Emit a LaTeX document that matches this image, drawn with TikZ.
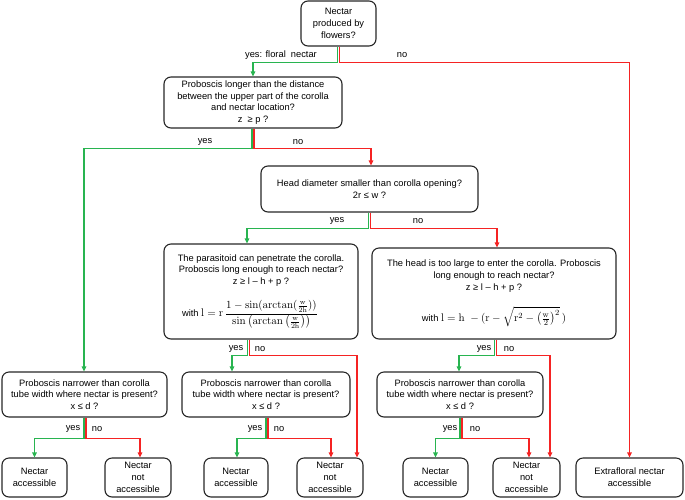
\documentclass[tikz,border=0pt]{standalone}
\usepackage{amsmath}
\usepackage[no-math]{fontspec}
\setmainfont{Liberation Sans}
\usetikzlibrary{arrows.meta}
\definecolor{gr}{RGB}{40,180,80}
\definecolor{rd}{RGB}{245,35,35}
\tikzset{
  box/.style={draw=black!85, line width=1.1pt, rounded corners=7pt, align=center, inner sep=0pt, font=\fontsize{9.3}{11.7}\selectfont},
  leaf/.style={box, font=\fontsize{9.3}{12.2}\selectfont},
  gl/.style={draw=gr, line width=1.1pt, -{Triangle[length=5pt,width=4.5pt]}},
  rl/.style={draw=rd, line width=1.1pt, -{Triangle[length=5pt,width=4.5pt]}},
  lab/.style={font=\fontsize{9.3}{11}\selectfont, inner sep=0pt}
}
\newcommand{\mathfs}{\fontsize{10.5}{12}\selectfont}
\newcommand{\mathfl}{\fontsize{11}{12}\selectfont}
\begin{document}
\begin{tikzpicture}[x=1pt,y=-1pt]
\useasboundingbox (0,0) rectangle (685,499);
% boxes
\node[box, minimum width=75pt, minimum height=45pt] (top) at (338.5,23.5) {Nectar\\produced by\\flowers?};
\node[box, minimum width=178pt, minimum height=51pt] (prob) at (253,102.5) {Proboscis longer than the distance\\between the upper part of the corolla\\and nectar location?\\z\ \ ≥ p ?};
\node[box, minimum width=217pt, minimum height=46pt] (head) at (369.5,189) {Head diameter smaller than corolla opening?\\2r ≤ w ?};
\node[box, minimum width=194pt, minimum height=95pt] (paras) at (261,291.5) {The parasitoid can penetrate the corolla.\\Proboscis long enough to reach nectar?\\z ≥ l – h + p ?\\[13pt]
with {\mathfs$\mathrm{l}=\mathrm{r}\,\dfrac{1-\sin(\arctan(\frac{\mathrm{w}}{2\mathrm{h}}))}{\sin\left(\arctan\left(\frac{\mathrm{w}}{2\mathrm{h}}\right)\right)}$}\hspace*{22pt}};
\node[box, minimum width=244pt, minimum height=91pt] (large) at (494,293.5) {The head is too large to enter the corolla. Proboscis\\long enough to reach nectar?\\z ≥ l – h + p ?\\[14pt]
with {\mathfl$\mathrm{l}=\mathrm{h}\;-(\mathrm{r}-\sqrt{\mathrm{r}^2-\left(\frac{\mathrm{w}}{2}\right)^2}\,)$}};
\node[box, minimum width=165pt, minimum height=45pt] (narL) at (84.5,394.5) {Proboscis narrower than corolla\\tube width where nectar is present?\\x ≤ d ?};
\node[box, minimum width=168pt, minimum height=45pt] (narM) at (266,394.5) {Proboscis narrower than corolla\\tube width where nectar is present?\\x ≤ d ?};
\node[box, minimum width=166pt, minimum height=45pt] (narR) at (460,394.5) {Proboscis narrower than corolla\\tube width where nectar is present?\\x ≤ d ?};
\node[leaf, minimum width=65pt, minimum height=39pt] (accL) at (34.5,477.5) {Nectar\\accessible};
\node[leaf, minimum width=66pt, minimum height=39pt] (notL) at (138,477.5) {Nectar\\not\\accessible};
\node[leaf, minimum width=64pt, minimum height=39pt] (accM) at (236,477.5) {Nectar\\accessible};
\node[leaf, minimum width=66pt, minimum height=39pt] (notM) at (330,477.5) {Nectar\\not\\accessible};
\node[leaf, minimum width=65pt, minimum height=39pt] (accR) at (435.5,477.5) {Nectar\\accessible};
\node[leaf, minimum width=67pt, minimum height=39pt] (notR) at (526.5,477.5) {Nectar\\not\\accessible};
\node[leaf, minimum width=107pt, minimum height=39pt] (extra) at (629.5,477.5) {Extrafloral nectar\\accessible};
% connectors
\draw[gl] ([xshift=-1pt]top.south) -- ++(0,16) -| (prob.north);
\draw[rl] ([xshift=1pt]top.south) -- ++(0,16) -| (extra.north);
\draw[gl] ([xshift=-1pt]prob.south) -- ++(0,20) -| ([xshift=-0.5pt]narL.north);
\draw[rl] ([xshift=1pt]prob.south) -- ++(0,20) -| ([xshift=1.5pt]head.north);
\draw[gl] ([xshift=-1pt]head.south) -- ++(0,16) -| ([xshift=-14pt]paras.north);
\draw[rl] ([xshift=1pt]head.south) -- ++(0,16) -| ([xshift=3pt]large.north);
\draw[gl] ([xshift=-13.5pt]paras.south) -- ++(0,16) -| ([xshift=-34pt]narM.north);
\draw[rl] ([xshift=-11.5pt]paras.south) -- ++(0,16) -| ([xshift=27pt]notM.north);
\draw[gl] ([xshift=0.5pt]large.south) -- ++(0,16) -| ([xshift=-1pt]narR.north);
\draw[rl] ([xshift=2.5pt]large.south) -- ++(0,16) -| ([xshift=23.5pt]notR.north);
\draw[gl] ([xshift=-0.5pt]narL.south) -- ++(0,21) -| (accL.north);
\draw[rl] ([xshift=1.5pt]narL.south) -- ++(0,21) -| ([xshift=2pt]notL.north);
\draw[gl] (narM.south) -- ++(0,21) -| ([xshift=1pt]accM.north);
\draw[rl] ([xshift=2pt]narM.south) -- ++(0,21) -| ([xshift=1pt]notM.north);
\draw[gl] (narR.south) -- ++(0,21) -| (accR.north);
\draw[rl] ([xshift=2pt]narR.south) -- ++(0,21) -| ([xshift=2.5pt]notR.north);
% labels
\node[lab] (y1) at (281,55) {yes: floral\ \ nectar};
\node[lab] (n1) at (402,55) {no};
\node[lab] (y2) at (205,142) {yes};
\node[lab] (n2) at (298,142) {no};
\node[lab] (y3) at (337,221) {yes};
\node[lab] (n3) at (418,221) {no};
\node[lab] (y4) at (236,349) {yes};
\node[lab] (n4) at (260,349) {no};
\node[lab] (y5) at (484,349) {yes};
\node[lab] (n5) at (509,349) {no};
\node[lab] (y6) at (73,429) {yes};
\node[lab] (n6) at (97,429) {no};
\node[lab] (y7) at (255,429) {yes};
\node[lab] (n7) at (279,429) {no};
\node[lab] (y8) at (450,429) {yes};
\node[lab] (n8) at (475,429) {no};
\end{tikzpicture}
\end{document}
